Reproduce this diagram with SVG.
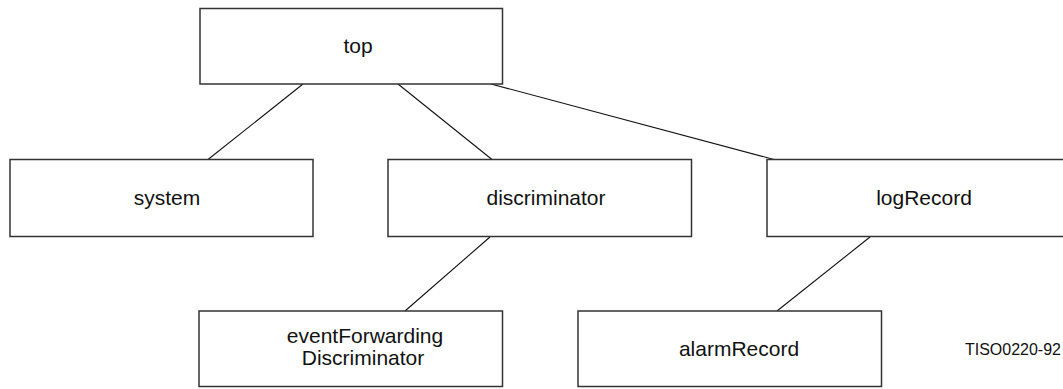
<svg xmlns="http://www.w3.org/2000/svg" width="1063" height="389" viewBox="0 0 1063 389">
<style>
.box{fill:#fff;stroke:#333;stroke-width:1.5}
.lbl{font-family:"Liberation Sans",Arial,sans-serif;font-size:21px;fill:#111;text-anchor:middle}
.con{stroke:#111;stroke-width:1.1;fill:none}
.note{font-family:"Liberation Sans",Arial,sans-serif;font-size:16px;fill:#111;text-anchor:end}
</style>
<rect x="0" y="0" width="1063" height="389" fill="#fff"/>
<g id="connectors">
<line class="con" x1="303" y1="84" x2="208" y2="159.5"/>
<line class="con" x1="398" y1="84" x2="492" y2="159.5"/>
<line class="con" x1="491" y1="84" x2="774" y2="159.5" stroke-width="1.5"/>
<line class="con" x1="490" y1="237" x2="405" y2="311"/>
<line class="con" x1="870" y1="237" x2="777" y2="311"/>
</g>
<g id="top"><rect class="box" x="200" y="8.5" width="302.5" height="75.5"/><text class="lbl" x="358" y="53">top</text></g>
<g id="system"><rect class="box" x="10" y="159.5" width="303" height="77"/><text class="lbl" x="167" y="205">system</text></g>
<g id="discriminator"><rect class="box" x="388" y="159.5" width="303.5" height="77"/><text class="lbl" x="546" y="205">discriminator</text></g>
<g id="logRecord"><rect class="box" x="767" y="159.5" width="303" height="77"/><text class="lbl" x="924" y="205">logRecord</text></g>
<g id="eventForwardingDiscriminator"><rect class="box" x="199" y="311" width="303.5" height="75.5"/><text class="lbl" x="365" y="343">eventForwarding</text><text class="lbl" x="363" y="365">Discriminator</text></g>
<g id="alarmRecord"><rect class="box" x="578" y="311" width="303.5" height="75.5"/><text class="lbl" x="739" y="356">alarmRecord</text></g>
<text class="note" x="1061" y="355">TISO0220-92</text>
</svg>
